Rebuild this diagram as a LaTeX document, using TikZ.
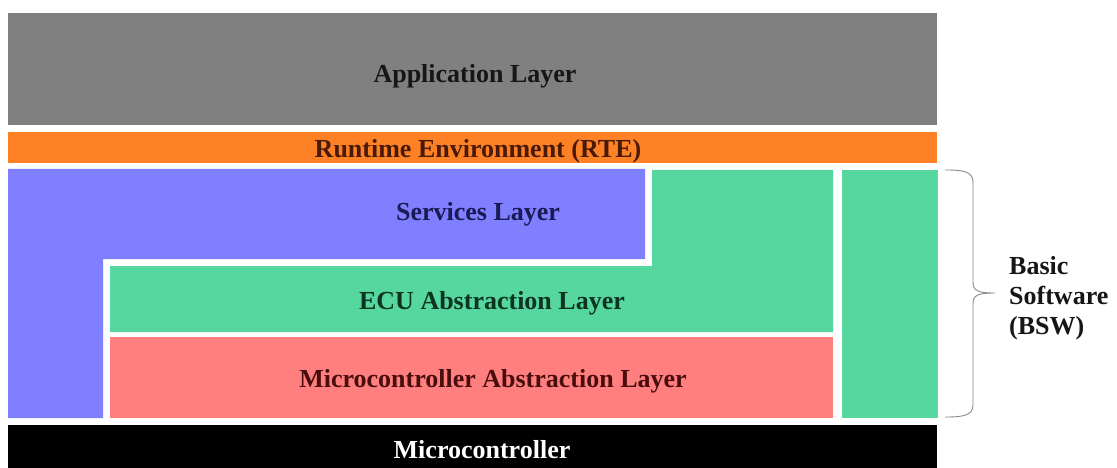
\documentclass[tikz,border=0pt]{standalone}
\usepackage{fontspec}
\setmainfont{Liberation Serif}
\definecolor{appgray}{HTML}{808080}
\definecolor{rteorange}{HTML}{FF8126}
\definecolor{srvblue}{HTML}{7F7FFF}
\definecolor{ecugreen}{HTML}{55D79F}
\definecolor{mcalred}{HTML}{FF7F7F}
\definecolor{apptext}{HTML}{161616}
\definecolor{rtetext}{HTML}{4A1A08}
\definecolor{srvtext}{HTML}{1A1A55}
\definecolor{ecutext}{HTML}{0D3322}
\definecolor{mcaltext}{HTML}{4A0D0D}
\definecolor{bracegray}{HTML}{8A8A8A}
\tikzset{
  layerlabel/.style={font=\fontsize{26}{30}\selectfont\bfseries, inner sep=0pt},
  centrelabel/.style={layerlabel, anchor=base},
}
\begin{document}
\begin{tikzpicture}[x=1pt,y=-1pt]
\useasboundingbox (0,0) rectangle (1117,468);
\fill[white] (0,0) rectangle (1117,468);

% layer blocks
\fill[appgray] (8,13) rectangle (937,125);
\fill[rteorange] (8,132) rectangle (937,163);
\fill[srvblue] (8,169) -- (645,169) -- (645,259) -- (103,259) -- (103,418) -- (8,418) -- cycle;
\fill[ecugreen] (652,170) -- (833,170) -- (833,332) -- (110,332) -- (110,266) -- (652,266) -- cycle;
\fill[mcalred] (110,337) rectangle (833,418);
\fill[ecugreen] (842,170) rectangle (938,418);
\fill[black] (8,425) rectangle (937,468);

% labels, placed by their baselines
\node[centrelabel, text=apptext] (app) at (475,83) {Application Layer};
\node[centrelabel, text=rtetext] (rte) at (478,158) {Runtime Environment (RTE)};
\node[centrelabel, text=srvtext] (srv) at (478,220) {Services Layer};
\node[centrelabel, text=ecutext] (ecu) at (492,309) {ECU Abstraction Layer};
\node[centrelabel, text=mcaltext] (mcal) at (493,387) {Microcontroller Abstraction Layer};
\node[centrelabel, text=white] (mcu) at (482,458) {Microcontroller};

% brace spanning the basic software
\coordinate (btop) at (945,170);
\coordinate (bbot) at (945,417);
\coordinate (btip) at (995,293);
\draw[bracegray, line width=0.9pt]
  (btop) .. controls (962,170) and (973,171) .. (973,182)
  -- (973,282) .. controls (973,291) and (978,293) .. (btip)
  .. controls (978,293) and (973,295) .. (973,304)
  -- (973,405) .. controls (973,416) and (962,417) .. (bbot);
\node[layerlabel, anchor=west, align=left, text=apptext] (bsw) at (1009,298)
  {Basic\\Software\\(BSW)};
\end{tikzpicture}
\end{document}
